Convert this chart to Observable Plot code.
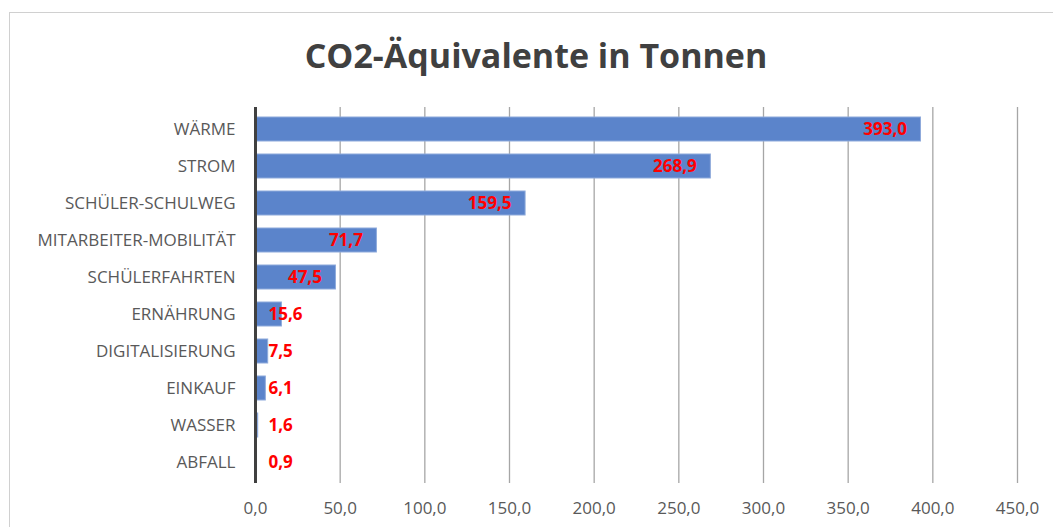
<!DOCTYPE html>
<html>
<head>
<meta charset="utf-8">
<script src="https://cdn.jsdelivr.net/npm/d3@7"></script>
<script src="https://cdn.jsdelivr.net/npm/@observablehq/plot@0.6"></script>
<style>
  html, body { margin: 0; padding: 0; background: #fff; width: 1053px; height: 527px; overflow: hidden; }
  #frame { position: absolute; left: 9px; top: 12px; width: 1100px; height: 600px; border: 1px solid #d0d0d0; box-sizing: border-box; }
  #title { position: absolute; left: 0; top: 33px; width: 1072px; text-align: center; font-family: "Open Sans", sans-serif; font-weight: 700; font-size: 34px; color: #404040; line-height: 44px; }
  #chart { position: absolute; left: 0; top: 90px; }
</style>
</head>
<body>
<div id="frame"></div>
<div id="title">CO2-Äquivalente in Tonnen</div>
<div id="chart"></div>
<script>
const categories = ["WÄRME", "STROM", "SCHÜLER-SCHULWEG", "MITARBEITER-MOBILITÄT", "SCHÜLERFAHRTEN", "ERNÄHRUNG", "DIGITALISIERUNG", "EINKAUF", "WASSER", "ABFALL"];
const values = [393.0, 268.9, 159.5, 71.7, 47.5, 15.6, 7.5, 6.1, 1.6, 0.9];
const xTicks = [0, 50, 100, 150, 200, 250, 300, 350, 400, 450];

const data = categories.map((c, i) => ({ category: c, value: values[i] }));
const fmt = v => v.toFixed(1).replace(".", ",");
const inside = data.filter(d => d.value >= 30);
const outside = data.filter(d => d.value < 30);

const chart = Plot.plot({
  width: 1053,
  height: 428,
  marginLeft: 255,
  marginRight: 36,
  marginTop: 17,
  marginBottom: 35,
  style: { fontFamily: "'Open Sans', sans-serif", background: "transparent", overflow: "visible" },
  x: { domain: [0, 450], ticks: xTicks, tickFormat: fmt, tickSize: 0, label: null },
  y: { domain: categories, paddingInner: 0.36, paddingOuter: 0.18, tickSize: 0, label: null },
  marks: [
    Plot.ruleX(xTicks.filter(t => t > 0), { stroke: "#a6a6a6", strokeWidth: 1.3 }),
    Plot.barX(data, { y: "category", x: "value", fill: "#5b84cb", stroke: "#8eaadb", strokeWidth: 1 }),
    Plot.ruleX([0], { stroke: "#404040", strokeWidth: 3 }),
    Plot.text(inside, { y: "category", x: "value", text: d => fmt(d.value), textAnchor: "end", dx: -14, fill: "#ff0000", fontWeight: 700, fontSize: 17 }),
    Plot.text(outside, { y: "category", x: 0, text: d => fmt(d.value), textAnchor: "start", dx: 13, fill: "#ff0000", fontWeight: 700, fontSize: 17 }),
    Plot.axisX({ ticks: xTicks, tickFormat: fmt, tickSize: 0, tickPadding: 18, fontSize: 17, fill: "#595959", label: null }),
    Plot.axisY({ tickSize: 0, tickPadding: 20, fontSize: 17, fill: "#595959", label: null })
  ]
});
document.getElementById("chart").appendChild(chart);
</script>
</body>
</html>
